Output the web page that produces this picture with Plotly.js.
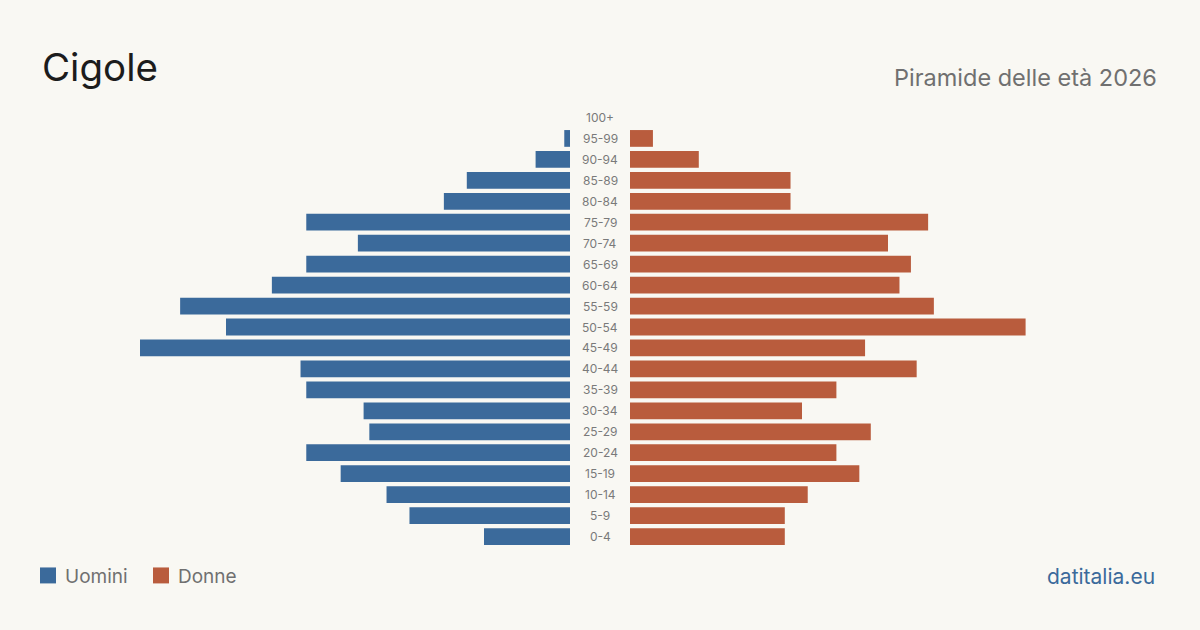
<!DOCTYPE html>
<html>
<head>
<meta charset="utf-8">
<script src="https://cdn.plot.ly/plotly-3.0.1.min.js"></script>
<style>
html,body{margin:0;padding:0;background:#f9f8f3;}
#chart{width:1200px;height:630px;}
</style>
</head>
<body>
<div id="chart"></div>
<script>
const ageGroups = ["0-4","5-9","10-14","15-19","20-24","25-29","30-34","35-39","40-44","45-49","50-54","55-59","60-64","65-69","70-74","75-79","80-84","85-89","90-94","95-99","100+"];
const men   = [15,28,32,40,46,35,36,46,47,75,60,68,52,46,37,46,22,18,6,1,0];
const women = [27,27,31,40,36,42,30,36,50,41,69,53,47,49,45,52,28,28,12,4,0];
const seriesNames = ["Uomini","Donne"];
const colors = ["#3b6a9b","#b95c3d"];
const titleText = "Cigole";
const subtitleText = "Piramide delle età 2026";
const sourceText = "datitalia.eu";

const maxVal = Math.max(...men, ...women);
const W = 1200;

const traces = [
  {type:'bar', orientation:'h', y:ageGroups, x:men, name:seriesNames[0],
   marker:{color:colors[0]}, xaxis:'x', yaxis:'y', hoverinfo:'x+y', width:0.8},
  {type:'bar', orientation:'h', y:ageGroups, x:women, name:seriesNames[1],
   marker:{color:colors[1]}, xaxis:'x2', yaxis:'y2', hoverinfo:'x+y', width:0.8}
];

const topM = 106.5, botM = 82.5;
const plotH = 630 - topM - botM;
function py(p){ return (630 - botM - p) / plotH; }

const annotations = ageGroups.map(g => ({
  xref:'paper', yref:'y', x:0.5, y:g, text:g, showarrow:false,
  xanchor:'center', yanchor:'middle',
  font:{family:'Inter, "Noto Sans", sans-serif', size:12, color:'#7a7a7a'}
}));

annotations.push(
  {xref:'paper', yref:'paper', x:40/W, y:py(66), text:titleText, showarrow:false,
   xanchor:'left', yanchor:'middle', font:{family:'Inter, sans-serif', size:38.5, color:'#1c1c1c'}},
  {xref:'paper', yref:'paper', x:1159/W, y:py(77), text:subtitleText, showarrow:false,
   xanchor:'right', yanchor:'middle', font:{family:'Inter, sans-serif', size:23.5, color:'#707070'}},
  {xref:'paper', yref:'paper', x:63/W, y:py(577), text:seriesNames[0], showarrow:false,
   xanchor:'left', yanchor:'middle', font:{family:'Inter, sans-serif', size:19, color:'#707070'}},
  {xref:'paper', yref:'paper', x:176/W, y:py(577), text:seriesNames[1], showarrow:false,
   xanchor:'left', yanchor:'middle', font:{family:'Inter, sans-serif', size:19, color:'#707070'}},
  {xref:'paper', yref:'paper', x:1157/W, y:py(577), text:sourceText, showarrow:false,
   xanchor:'right', yanchor:'middle', font:{family:'Inter, sans-serif', size:21, color:'#3b6a9b'}}
);

const shapes = [
  {type:'rect', xref:'paper', yref:'paper', x0:40/W, x1:56/W, y0:py(584), y1:py(568),
   fillcolor:colors[0], line:{width:0}},
  {type:'rect', xref:'paper', yref:'paper', x0:153/W, x1:169/W, y0:py(584), y1:py(568),
   fillcolor:colors[1], line:{width:0}}
];

const layout = {
  width:1200, height:630,
  paper_bgcolor:'#f9f8f3', plot_bgcolor:'#f9f8f3',
  margin:{l:0, r:0, t:topM, b:botM},
  showlegend:false,
  bargap:0.2,
  xaxis:{domain:[140/W, 570/W], range:[maxVal, 0], showgrid:false, zeroline:false,
         showticklabels:false, showline:false, fixedrange:true},
  xaxis2:{domain:[630/W, 1060/W], range:[0, maxVal], showgrid:false, zeroline:false,
          showticklabels:false, showline:false, fixedrange:true},
  yaxis:{type:'category', categoryorder:'array', categoryarray:ageGroups,
         range:[-0.5, ageGroups.length-0.5], showgrid:false, zeroline:false,
         showticklabels:false, showline:false, anchor:'x'},
  yaxis2:{type:'category', categoryorder:'array', categoryarray:ageGroups,
          range:[-0.5, ageGroups.length-0.5], showgrid:false, zeroline:false,
          showticklabels:false, showline:false, anchor:'x2', matches:'y'},
  annotations:annotations,
  shapes:shapes
};

Plotly.newPlot('chart', traces, layout, {displayModeBar:false, staticPlot:true});
</script>
</body>
</html>
